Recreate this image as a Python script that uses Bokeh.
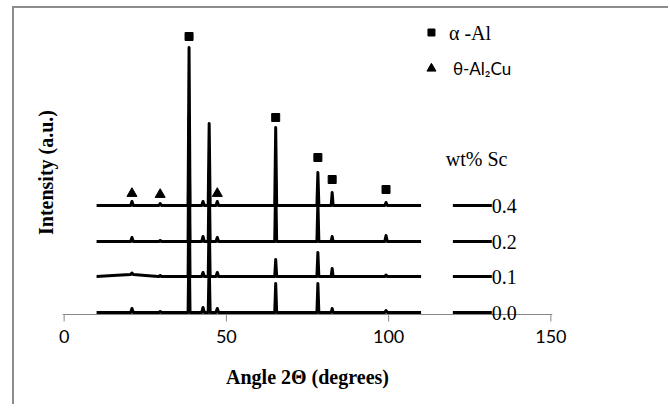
from bokeh.plotting import figure
from bokeh.models import Range1d, FixedTicker, ColumnDataSource, Label, Span
from bokeh.core.properties import value
from bokeh.embed import file_html
from bokeh.resources import INLINE

# ---------------- data ----------------
# shared 2-theta vertices of the traced diffraction patterns (degrees)
two_theta = [10, 15, 20.5, 20.9, 21.3, 27, 29.2, 29.6, 30.0, 38.2, 38.5, 38.8,
             42.4, 42.8, 43.2, 44.4, 44.7, 45.0, 46.8, 47.2, 47.6, 64.9, 65.2, 65.5,
             77.9, 78.2, 78.5, 82.3, 82.6, 82.9, 98.8, 99.2, 99.6, 110]

# intensities (a.u.) above each pattern's own baseline
int_00 = [0, 0, 0, 4, 0, 0, 0, 1, 0, 0, 80, 0, 0, 5, 0, 0, 50, 0, 0, 4, 0, 0, 29, 0,
          0, 29, 0, 0, 4, 0, 0, 2, 0, 0]
int_01 = [0, 1, 2, 3.5, 2, 0.5, 0, 1, 0, 0, 100, 0, 0, 4, 0, 0, 60, 0, 0, 4, 0, 0, 17, 0,
          0, 24, 0, 0, 8, 0, 0, 1.5, 0, 0]
int_02 = [0, 0, 0, 4, 0, 0, 0, 1, 0, 0, 125, 0, 0, 5, 0, 0, 70, 0, 0, 4, 0, 0, 60, 0,
          0, 40, 0, 0, 5, 0, 0, 6, 0, 0]
int_04 = [0, 0, 0, 4, 0, 0, 0, 2, 0, 0, 158, 0, 0, 4, 0, 0, 82, 0, 0, 4, 0, 0, 78, 0,
          0, 33, 0, 0, 13, 0, 0, 3, 0, 0]

sc_labels = ["0.0", "0.1", "0.2", "0.4"]
offsets = [0, 36, 71, 107]          # vertical stacking offsets (a.u.)
series = [int_00, int_01, int_02, int_04]

# phase markers
al_theta = [38.5, 65.2, 78.2, 82.6, 99.2]
al_level = [276, 195, 155, 133, 123]
al2cu_theta = [20.9, 29.6, 47.2]
al2cu_level = [119, 118, 119]

x_ticks = [0, 50, 100, 150]
axis_level = -2     # intensity where the horizontal axis line crosses
tick_len = 7        # tick length in intensity units

# ---------------- figure ----------------
p = figure(width=656, height=398, output_backend="svg", toolbar_location=None,
           x_range=Range1d(-0.5, 150.5), y_range=Range1d(-12, 292),
           min_border_left=48, min_border_right=118, min_border_top=12, min_border_bottom=82,
           margin=(8, 0, 0, 14),
           styles={"box-shadow": "-2px -2px 0 0 #8c8c8c"})
p.background_fill_color = "white"
p.border_fill_color = "white"
p.outline_line_color = None
p.grid.visible = False

serif = "Liberation Serif"
sans = "Lato"

# x axis: tick labels and title (line and ticks drawn at the crossing level below)
xa = p.xaxis[0]
xa.ticker = FixedTicker(ticks=x_ticks)
xa.axis_line_color = None
xa.major_tick_line_color = None
xa.major_tick_in = 0
xa.major_tick_out = 0
xa.minor_tick_line_color = None
xa.major_label_text_font = sans
xa.major_label_text_font_size = "18px"
xa.major_label_text_color = "black"
xa.major_label_standoff = 5
xa.axis_label = "Angle 2\u0398 (degrees)"
xa.axis_label_text_font = serif
xa.axis_label_text_font_style = "bold"
xa.axis_label_text_font_size = "20px"
xa.axis_label_text_color = "black"
xa.axis_label_standoff = 20

p.add_layout(Span(location=axis_level, dimension="width", line_color="#888888", line_width=1))
p.segment(x0=x_ticks, y0=[axis_level] * len(x_ticks), x1=x_ticks,
          y1=[axis_level - tick_len] * len(x_ticks), line_color="#888888", line_width=1)

# y axis: only the title
ya = p.yaxis[0]
ya.ticker = FixedTicker(ticks=[])
ya.axis_line_color = None
ya.major_tick_line_color = None
ya.minor_tick_line_color = None
ya.axis_label = "Intensity (a.u.)"
ya.axis_label_text_font = serif
ya.axis_label_text_font_style = "bold"
ya.axis_label_text_font_size = "20px"
ya.axis_label_text_color = "black"
ya.axis_label_standoff = 6

# patterns
for lab, off, ys in zip(sc_labels, offsets, series):
    src = ColumnDataSource(dict(x=two_theta, y=[v + off for v in ys]))
    p.line("x", "y", source=src, line_color="black", line_width=3, line_join="round")

# legend for the Sc content (short line + label at each baseline)
leg_src = ColumnDataSource(dict(x0=[119.8] * 4, x1=[131.8] * 4, y=offsets))
p.segment(x0="x0", y0="y", x1="x1", y1="y", source=leg_src, line_color="black", line_width=3)
for lab, off in zip(sc_labels, offsets):
    p.add_layout(Label(x=131.8, y=off, text=lab, text_font=serif, text_font_size="20px",
                       text_baseline="middle", text_align="left", text_color="black"))
p.add_layout(Label(x=117.6, y=154, text="wt%  Sc", text_font=serif, text_font_size="20px",
                   text_baseline="middle", text_align="left", text_color="black"))

# phase markers
p.scatter(al_theta, al_level, marker="square", size=8, color="black")
p.scatter(al2cu_theta, al2cu_level, marker="triangle", size=10, color="black")

# phase legend
p.scatter([113.2], [280], marker="square", size=7, color="black")
p.add_layout(Label(x=118.6, y=280, text="\u03b1 -Al", text_font=serif, text_font_size="20px",
                   text_baseline="middle", text_align="left", text_color="black"))
p.scatter([113.2], [244], marker="triangle", size=9, color="black")
p.add_layout(Label(x=119.8, y=244, text="\u03b8-Al\u2082Cu", text_font=sans, text_font_size="17px",
                   text_baseline="middle", text_align="left", text_color="black"))

open("out.html", "w").write(file_html(p, INLINE))
